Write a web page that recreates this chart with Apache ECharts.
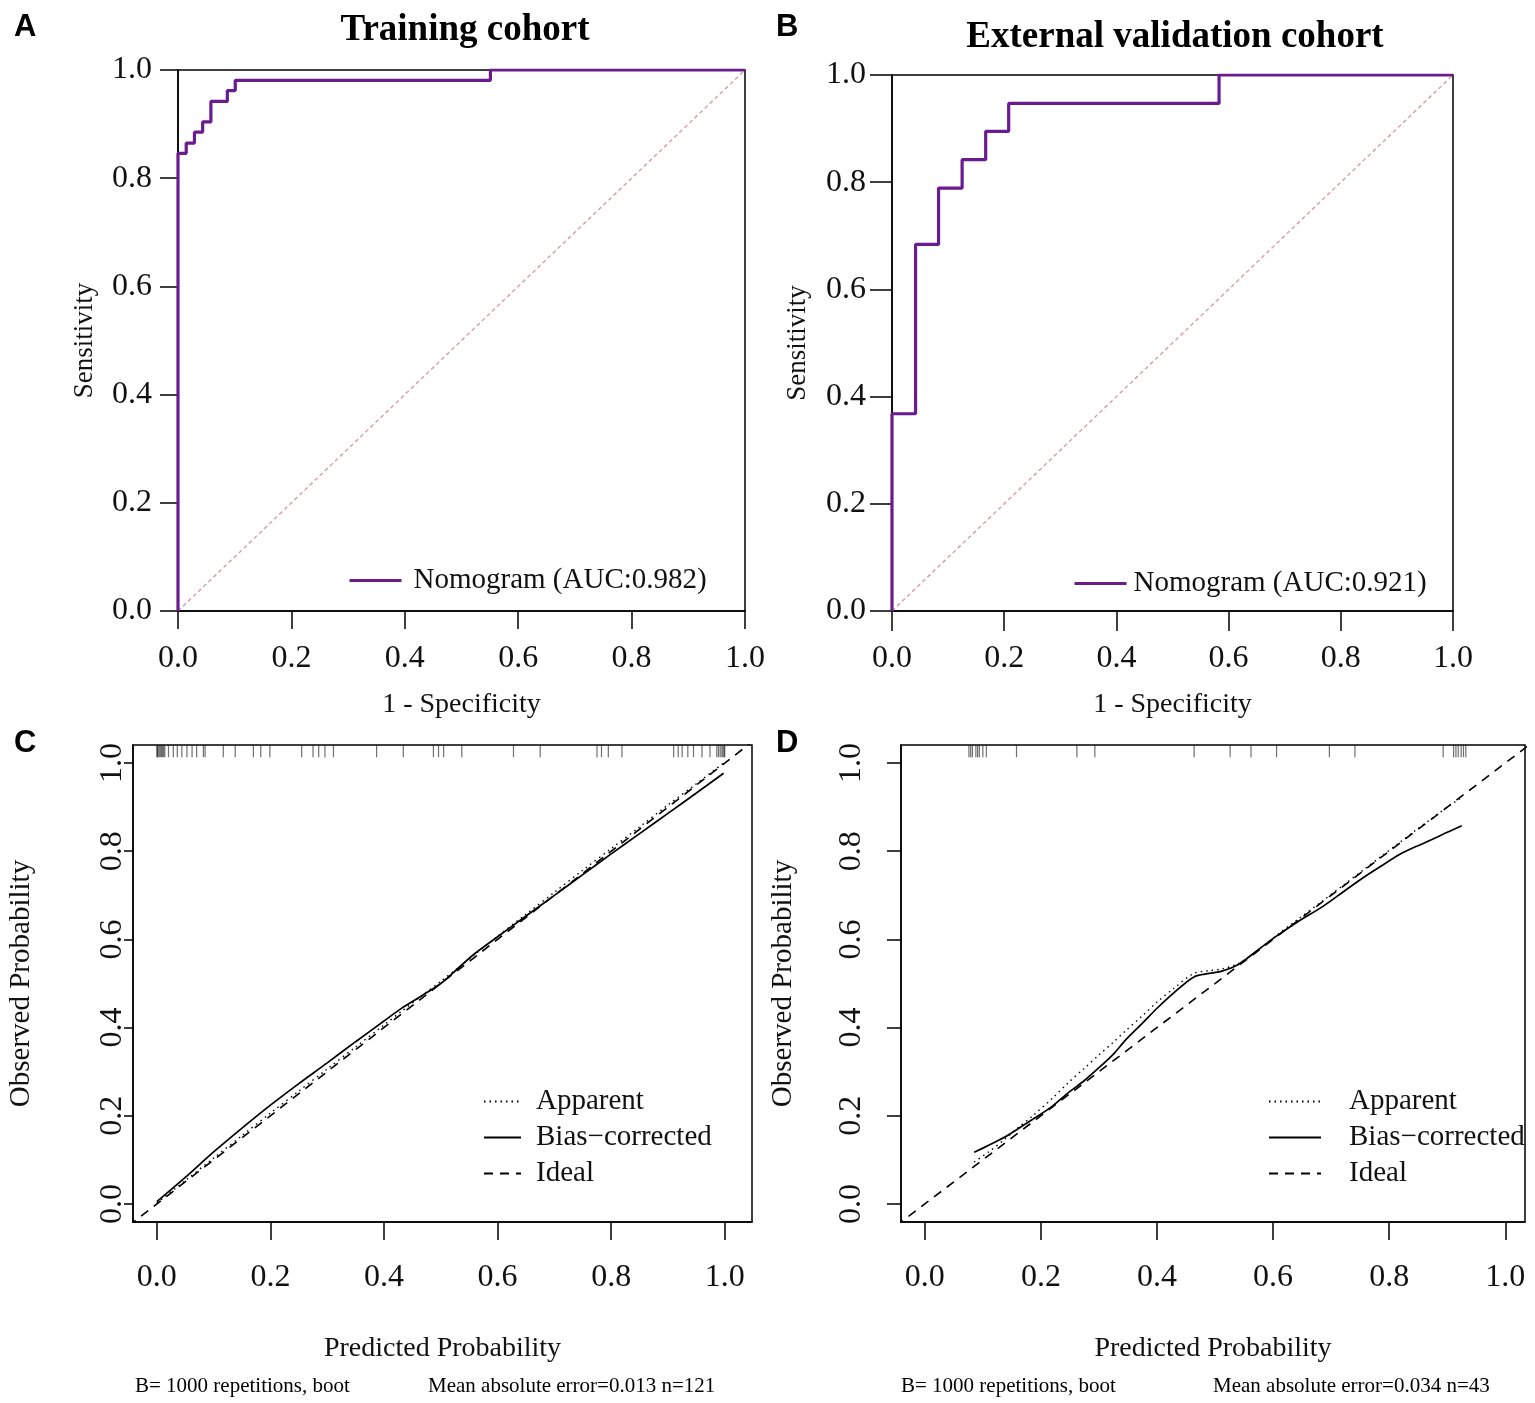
<!DOCTYPE html>
<html>
<head>
<meta charset="utf-8">
<title>ROC and calibration</title>
<script src="https://cdn.jsdelivr.net/npm/echarts@6/dist/echarts.min.js"></script>
<style>
  html, body { margin: 0; padding: 0; background: #fff; }
  #chart { width: 1535px; height: 1403px; }
</style>
</head>
<body>
<div id="chart"></div>
<script>
// ---- data ----

// ROC, training cohort (fpr / tpr corner points)
var rocTrainFpr = [0, 0, 0.0145, 0.029, 0.0435, 0.058, 0.087, 0.101, 0.551, 1];
var rocTrainTpr = [0, 0.846, 0.865, 0.885, 0.904, 0.942, 0.962, 0.981, 1, 1];

// ROC, external validation cohort
var rocValFpr = [0, 0, 0.042, 0.083, 0.125, 0.167, 0.208, 0.583, 1];
var rocValTpr = [0, 0.368, 0.684, 0.789, 0.842, 0.895, 0.947, 1, 1];

var refDiag = [0, 1];
var calTicks = [0, 0.2, 0.4, 0.6, 0.8, 1.0];

// calibration, training cohort
var calTrainX = [0, 0.05, 0.1, 0.15, 0.2, 0.25, 0.3, 0.35, 0.4, 0.43, 0.47, 0.5, 0.53, 0.56, 0.6, 0.65, 0.7, 0.75, 0.8, 0.85, 0.9, 0.95, 0.998];
var calTrainBias = [0.005, 0.06, 0.118, 0.172, 0.224, 0.273, 0.32, 0.368, 0.415, 0.443, 0.475, 0.5, 0.534, 0.568, 0.606, 0.653, 0.7, 0.747, 0.794, 0.84, 0.886, 0.932, 0.977];
var calTrainApparent = [0.002, 0.053, 0.104, 0.155, 0.206, 0.256, 0.306, 0.356, 0.406, 0.436, 0.476, 0.505, 0.535, 0.566, 0.607, 0.657, 0.707, 0.757, 0.806, 0.855, 0.905, 0.953, 1.0];
var rugTrain = [0, 0.001, 0.002, 0.004, 0.006, 0.008, 0.01, 0.012, 0.014, 0.0205, 0.029, 0.036, 0.044, 0.053, 0.062, 0.07, 0.082, 0.085,
  0.117, 0.138, 0.17, 0.183, 0.199, 0.255, 0.275, 0.285, 0.296, 0.311, 0.387, 0.434, 0.487, 0.496, 0.505,
  0.537, 0.628, 0.675, 0.775, 0.783, 0.795, 0.819, 0.91, 0.918, 0.925, 0.935, 0.945, 0.96, 0.974,
  0.986, 0.989, 0.992, 0.995, 0.997, 0.999, 1.0];

// calibration, external validation cohort
var calValX = [0.085, 0.11, 0.137, 0.16, 0.186, 0.22, 0.248, 0.275, 0.3, 0.325, 0.346, 0.375, 0.401, 0.43, 0.4636, 0.49, 0.512, 0.54, 0.57, 0.602, 0.64, 0.686, 0.72, 0.755, 0.787, 0.817, 0.845, 0.873, 0.9, 0.925];
var calValBias = [0.117, 0.133, 0.151, 0.17, 0.192, 0.222, 0.253, 0.28, 0.309, 0.34, 0.372, 0.41, 0.445, 0.48, 0.515, 0.523, 0.528, 0.543, 0.572, 0.604, 0.638, 0.675, 0.707, 0.74, 0.767, 0.792, 0.81, 0.826, 0.843, 0.858];
var calValApparent = [0.095, 0.118, 0.146, 0.172, 0.2, 0.24, 0.276, 0.308, 0.338, 0.367, 0.393, 0.427, 0.459, 0.49, 0.523, 0.529, 0.533, 0.545, 0.572, 0.605, 0.643, 0.688, 0.722, 0.757, 0.789, 0.819, 0.847, 0.874, 0.9, 0.922];
var rugVal = [0.076, 0.079, 0.082, 0.088, 0.091, 0.094, 0.1, 0.106, 0.158, 0.262, 0.293, 0.464, 0.526, 0.562, 0.606, 0.697, 0.741,
  0.893, 0.911, 0.915, 0.919, 0.924, 0.928, 0.932];

// ---- helpers ----
function zip(xs, ys) {
  return xs.map(function (x, i) { return [x, ys[i]]; });
}
function fmt(v) { return v.toFixed(1); }

var serif = '"Liberation Serif", "Times New Roman", serif';
var sans = '"Liberation Sans", Arial, sans-serif';
var purple = '#6A1B8E';
var ink = '#111';
var tickFont = 32;
var nameFont = 28;

var chart = echarts.init(document.getElementById('chart'));

function axisBase(idx) {
  return {
    type: 'value', gridIndex: idx,
    nameLocation: 'middle',
    nameTextStyle: { fontFamily: serif, fontSize: nameFont, color: ink },
    axisLine: { show: true, onZero: false, lineStyle: { color: '#000', width: 1.5 } },
    splitLine: { show: false }
  };
}

function rocX(idx, tickLen) {
  return Object.assign(axisBase(idx), {
    min: 0, max: 1, interval: 0.2,
    name: '1 - Specificity', nameGap: 80,
    axisTick: { show: true, length: tickLen, lineStyle: { color: '#000', width: 1.5 } },
    axisLabel: { margin: 32, fontFamily: serif, fontSize: tickFont, color: ink, formatter: fmt }
  });
}
function rocY(idx, tickLen, nameGap) {
  return Object.assign(axisBase(idx), {
    min: 0, max: 1, interval: 0.2,
    name: 'Sensitivity', nameGap: nameGap,
    nameTextStyle: { fontFamily: serif, fontSize: 27, color: ink },
    axisTick: { show: true, length: tickLen, lineStyle: { color: '#000', width: 1.5 } },
    axisLabel: { margin: 26, fontFamily: serif, fontSize: tickFont, color: ink, formatter: fmt }
  });
}
function calX(idx, min, max) {
  return Object.assign(axisBase(idx), {
    min: min, max: max,
    name: 'Predicted Probability', nameGap: 113,
    axisTick: { show: true, length: 18, customValues: calTicks, lineStyle: { color: '#000', width: 1.5 } },
    axisLabel: { margin: 40, customValues: calTicks, fontFamily: serif, fontSize: tickFont, color: ink, formatter: fmt }
  });
}
function calY(idx, labelGap, nameGap, tickLen) {
  return Object.assign(axisBase(idx), {
    min: -0.041, max: 1.041,
    name: 'Observed Probability', nameGap: nameGap,
    nameTextStyle: { fontFamily: serif, fontSize: 29, color: ink },
    axisTick: { show: true, length: tickLen, customValues: calTicks, lineStyle: { color: '#000', width: 1.5 } },
    axisLabel: { margin: labelGap, rotate: 90, customValues: calTicks, fontFamily: serif, fontSize: tickFont, color: ink, formatter: fmt }
  });
}

function calLines(idx, xs, apparent, bias, rug) {
  return [
    {
      name: 'Apparent', type: 'line', xAxisIndex: idx, yAxisIndex: idx,
      data: zip(xs, apparent), symbol: 'none', smooth: 0.3,
      itemStyle: { color: '#000' },
      lineStyle: { color: '#000', width: 1.4, type: [1.5, 4] }
    },
    {
      name: 'Bias\u2212corrected', type: 'line', xAxisIndex: idx, yAxisIndex: idx,
      data: zip(xs, bias), symbol: 'none', smooth: 0.3,
      itemStyle: { color: '#000' },
      lineStyle: { color: '#000', width: 1.7 }
    },
    {
      name: 'Ideal', type: 'line', xAxisIndex: idx, yAxisIndex: idx,
      data: [[-0.05, -0.05], [1.05, 1.05]], symbol: 'none', clip: true,
      itemStyle: { color: '#000' },
      lineStyle: { color: '#000', width: 1.6, type: [9, 7] }
    },
    {
      name: 'rug' + idx, type: 'scatter', xAxisIndex: idx, yAxisIndex: idx,
      data: rug.map(function (v) { return [v, 1.027]; }),
      symbol: 'rect', symbolSize: [1.2, 12], silent: true,
      itemStyle: { color: '#111', opacity: 0.6 }
    }
  ];
}

function legendOf(names, left, top, width, gap, vertical, lineWidth) {
  var lg = {
    data: names, left: left, top: top,
    orient: vertical ? 'vertical' : 'horizontal',
    itemWidth: width, itemHeight: 14, itemGap: 7,
    itemStyle: { opacity: 0 },
    textStyle: { fontFamily: serif, fontSize: 29, color: ink, padding: [0, 0, 0, gap] }
  };
  if (lineWidth) lg.lineStyle = { width: lineWidth };
  return lg;
}

function textTitle(text, left, top, size, bold, family, align) {
  return {
    text: text, left: left, top: top, textAlign: align || 'left',
    textStyle: { fontFamily: family || serif, fontSize: size, fontWeight: bold ? 'bold' : 'normal', color: '#000' }
  };
}

var calNames = ['Apparent', 'Bias\u2212corrected', 'Ideal'];

var option = {
  animation: false,
  backgroundColor: '#fff',
  title: [
    textTitle('Training cohort', 460, 7, 37, true, serif, 'center'),
    textTitle('External validation cohort', 1170, 14, 37, true, serif, 'center'),
    textTitle('A', 9, 7, 31, true, sans),
    textTitle('B', 771, 7, 31, true, sans),
    textTitle('C', 9, 723, 31, true, sans),
    textTitle('D', 771, 723, 31, true, sans),
    textTitle('B= 1000 repetitions, boot', 130, 1371, 21, false),
    textTitle('Mean absolute error=0.013 n=121', 423, 1371, 21, false),
    textTitle('B= 1000 repetitions, boot', 896, 1371, 21, false),
    textTitle('Mean absolute error=0.034 n=43', 1208, 1371, 21, false)
  ],
  legend: [
    legendOf(['Nomogram (AUC:0.982)'], 343, 561, 52, 7, false, 3),
    legendOf(['Nomogram (AUC:0.921)'], 1068, 564, 52, 2, false, 3),
    legendOf(calNames, 478, 1082, 37, 10, true),
    legendOf(calNames, 1263, 1082, 52, 23, true)
  ],
  grid: [
    { left: 178, top: 70, width: 567, height: 541, show: true, borderColor: '#000', borderWidth: 1.5 },
    { left: 892, top: 75, width: 561, height: 536, show: true, borderColor: '#000', borderWidth: 1.5 },
    { left: 133, top: 745, width: 619, height: 477, show: true, borderColor: '#000', borderWidth: 1.5 },
    { left: 901, top: 745, width: 624, height: 477, show: true, borderColor: '#000', borderWidth: 1.5 }
  ],
  xAxis: [
    rocX(0, 18),
    rocX(1, 20),
    calX(2, -0.042, 1.048),
    calX(3, -0.041, 1.034)
  ],
  yAxis: [
    rocY(0, 18, 80),
    rocY(1, 22, 81),
    calY(2, 4, 97, 9),
    calY(3, 33, 103, 14)
  ],
  series: [
    {
      name: 'diagA', type: 'line', xAxisIndex: 0, yAxisIndex: 0,
      data: zip(refDiag, refDiag), symbol: 'none', silent: true,
      lineStyle: { color: '#D3A6A6', width: 1.5, type: [4, 3] }
    },
    {
      name: 'Nomogram (AUC:0.982)', type: 'line', xAxisIndex: 0, yAxisIndex: 0,
      data: zip(rocTrainFpr, rocTrainTpr), step: 'end', symbol: 'none',
      lineStyle: { color: purple, width: 3.2 }, itemStyle: { color: purple }
    },
    {
      name: 'diagB', type: 'line', xAxisIndex: 1, yAxisIndex: 1,
      data: zip(refDiag, refDiag), symbol: 'none', silent: true,
      lineStyle: { color: '#D3A6A6', width: 1.5, type: [4, 3] }
    },
    {
      name: 'Nomogram (AUC:0.921)', type: 'line', xAxisIndex: 1, yAxisIndex: 1,
      data: zip(rocValFpr, rocValTpr), step: 'end', symbol: 'none',
      lineStyle: { color: purple, width: 3.2 }, itemStyle: { color: purple }
    }
  ].concat(
    calLines(2, calTrainX, calTrainApparent, calTrainBias, rugTrain),
    calLines(3, calValX, calValApparent, calValBias, rugVal)
  )
};

chart.setOption(option);
</script>
</body>
</html>
